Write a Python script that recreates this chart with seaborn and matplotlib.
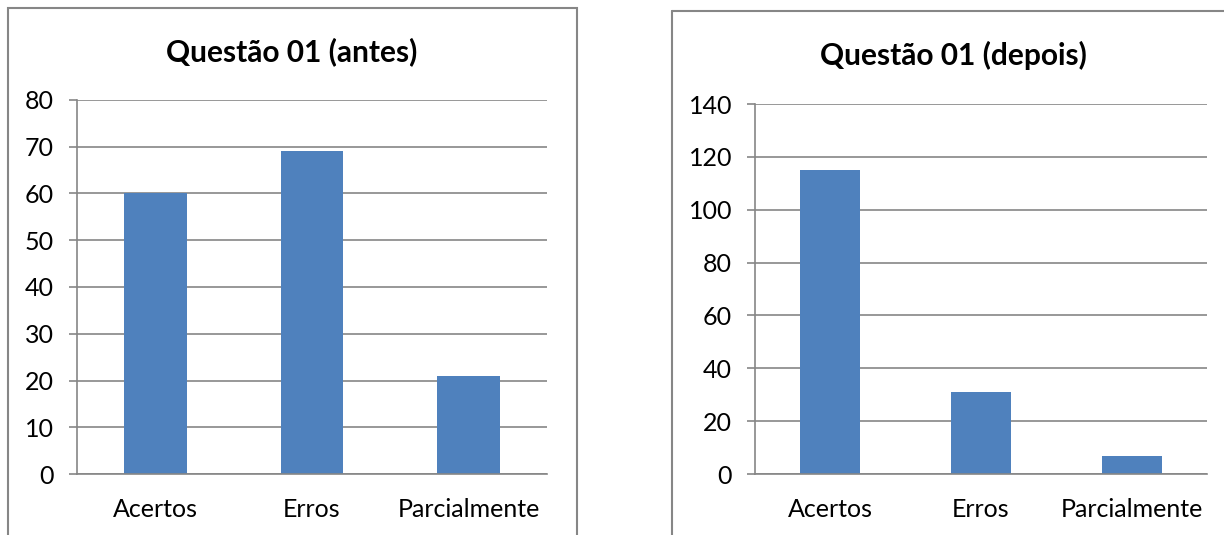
import matplotlib
matplotlib.use("Agg")
import matplotlib.pyplot as plt
from matplotlib.patches import Rectangle
from matplotlib.lines import Line2D
import seaborn as sns
import pandas as pd

categorias = ["Acertos", "Erros", "Parcialmente"]
antes = [60, 69, 21]
depois = [115, 31, 7]
titulo_antes = "Questão 01 (antes)"
titulo_depois = "Questão 01 (depois)"
ticks_antes = [0, 10, 20, 30, 40, 50, 60, 70, 80]
ticks_depois = [0, 20, 40, 60, 80, 100, 120, 140]

sns.set_theme(style="white")
plt.rcParams["font.family"] = ["Lato", "DejaVu Sans"]
plt.rcParams["text.color"] = "black"

W, H = 1224, 535
fig = plt.figure(figsize=(W / 100, H / 100), dpi=100)
fig.patch.set_facecolor("white")

AZUL = "#4f81bd"
CINZA = "#868686"


def px_axes(l, t, r, b):
    return fig.add_axes([l / W, 1 - b / H, (r - l) / W, (b - t) / H])


def painel(ax, valores, ticks, titulo, title_x, title_y):
    df = pd.DataFrame({"cat": categorias, "val": valores})
    sns.barplot(data=df, x="cat", y="val", color=AZUL, width=0.4, ax=ax,
                saturation=1, edgecolor="none")
    ax.set_xlim(-0.5, 2.5)
    ax.set_ylim(ticks[0], ticks[-1])
    ax.set_yticks(ticks)
    ax.set_yticklabels([str(t) for t in ticks])
    ax.set_xlabel("")
    ax.set_ylabel("")
    ax.yaxis.grid(True, color=CINZA, linewidth=1.2)
    ax.set_axisbelow(True)
    for s in ["top", "right"]:
        ax.spines[s].set_visible(False)
    for s in ["left", "bottom"]:
        ax.spines[s].set_color(CINZA)
        ax.spines[s].set_linewidth(1.2)
    ax.set_xticks([-0.5, 0.5, 1.5, 2.5], minor=True)
    ax.tick_params(axis="x", which="major", length=0, pad=17,
                   labelsize=18, labelcolor="black")
    ax.tick_params(axis="x", which="minor", length=5.5, width=1.2,
                   color=CINZA, direction="out")
    ax.tick_params(axis="y", length=5.5, width=1.2, color=CINZA,
                   direction="out", left=True, labelsize=18,
                   labelcolor="black", pad=11)
    ax.set_facecolor("white")
    # title centred over the whole chart area
    fig.text(title_x / W, 1 - title_y / H, titulo, color="black",
             ha="center", va="center", fontsize=21.5, fontweight="bold")


ax1 = px_axes(77, 100, 547, 474)
painel(ax1, antes, ticks_antes, titulo_antes, 292, 52)
ax2 = px_axes(755, 104, 1207, 474)
painel(ax2, depois, ticks_depois, titulo_depois, 953, 55)

# chart-area borders
fig.add_artist(Rectangle((8 / W, -0.05), (577 - 8) / W, 1.05 - 8 / H,
                         transform=fig.transFigure, fill=False,
                         edgecolor=CINZA, linewidth=1.5))
fig.add_artist(Line2D([672 / W, 672 / W], [-0.05, 1 - 11 / H],
                      transform=fig.transFigure, color=CINZA, linewidth=1.5))
fig.add_artist(Line2D([672 / W, 1.05], [1 - 11 / H, 1 - 11 / H],
                      transform=fig.transFigure, color=CINZA, linewidth=1.5))

fig.savefig("out.png", dpi=100, facecolor="white")
